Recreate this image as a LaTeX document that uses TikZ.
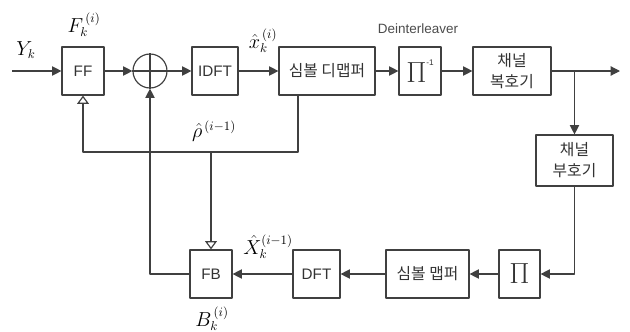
\documentclass[tikz,border=0pt]{standalone}
\usepackage{fontspec}
\setmainfont{Liberation Sans}
\newfontfamily\kor{Noto Sans CJK KR}
\usetikzlibrary{arrows.meta,calc}

\begin{document}
\begin{tikzpicture}[x=0.03cm, y=-0.03cm, line join=round,
  blk/.style={draw=black!75, line width=1pt, minimum height=1.44cm, inner sep=1pt,
    text=black!80, font=\fontsize{13}{14}\selectfont, align=center},
  krblk/.style={blk, font=\kor\fontsize{13.5}{18}\selectfont},
  sig/.style={draw=black!75, line width=1pt, -{Triangle[length=8pt,width=8pt]}},
  fbk/.style={draw=black!75, line width=1pt, -{Triangle[open,fill=white,length=7pt,width=10pt]}},
  lbl/.style={font=\fontsize{16}{16}\selectfont, inner sep=1pt}]
\useasboundingbox (0,0) rectangle (630,332);

% forward path
\node[blk, minimum width=1.26cm] (ff) at (83,71) {FF};
\node[draw=black!75, line width=1pt, circle, minimum size=1.02cm, inner sep=0pt] (sum) at (150,71) {};
\draw[draw=black!75, line width=1pt] (sum.north) -- (sum.south) (sum.west) -- (sum.east);
\node[blk, minimum width=1.38cm] (idft) at (215,71) {IDFT};
\node[krblk, minimum width=2.88cm] (demap) at (327,71) {심볼 디맵퍼};
\node[blk, minimum width=1.26cm, font=\fontsize{28}{28}\selectfont] (deint) at (420,71)
  {$\Pi$\raisebox{15pt}{\fontsize{7}{7}\selectfont -1}};
\node[krblk, minimum width=2.34cm] (dec) at (512,71) {채널\\복호기};

% feedback path
\node[krblk, minimum width=2.31cm, minimum height=1.53cm] (enc) at (574.5,160.5) {채널\\부호기};
\node[blk, minimum width=1.23cm, font=\fontsize{28}{28}\selectfont] (intl) at (519.5,274) {$\Pi$};
\node[krblk, minimum width=2.49cm] (map) at (427.5,274) {심볼 맵퍼};
\node[blk, minimum width=1.41cm] (dft) at (316.5,274) {DFT};
\node[blk, minimum width=1.26cm] (fb) at (211,274) {FB};

\coordinate (in) at (12,71);
\coordinate (out) at (620,71);
\coordinate (br) at (574.5,71);
\coordinate (tap) at (298,152);

\draw[sig] (in) -- (ff);
\draw[sig] (ff) -- (sum);
\draw[sig] (sum) -- (idft);
\draw[sig] (idft) -- (demap);
\draw[sig] (demap) -- (deint);
\draw[sig] (deint) -- (dec);
\draw[sig] (dec) -- (out);
\draw[sig] (br) -- (enc);
\draw[sig] (enc.south) |- (intl.east);
\draw[sig] (intl) -- (map);
\draw[sig] (map) -- (dft);
\draw[sig] (dft) -- (fb);
\draw[sig] (fb.west) -| (sum.south);
\draw[fbk] (tap |- demap.south) -- (tap) -| (ff.south);
\draw[fbk] (fb.north |- tap) -- (fb.north);

% labels
\node[lbl] (ylab) at (26,50) {$Y_k$};
\node[lbl] (flab) at (84,25) {$F_k^{\,(i)}$};
\node[lbl] (xlab) at (263,41) {$\hat{x}_k^{\,(i)}$};
\node[font=\fontsize{11.5}{12}\selectfont, text=black!70] (dlab) at (418,29) {Deinterleaver};
\node[lbl] (rlab) at (214,131) {$\hat{\rho}^{\,(i-1)}$};
\node[lbl] (Xlab) at (268,247) {$\hat{X}_k^{(i-1)}$};
\node[lbl] (blab) at (212,319) {$B_k^{\,(i)}$};
\end{tikzpicture}
\end{document}
